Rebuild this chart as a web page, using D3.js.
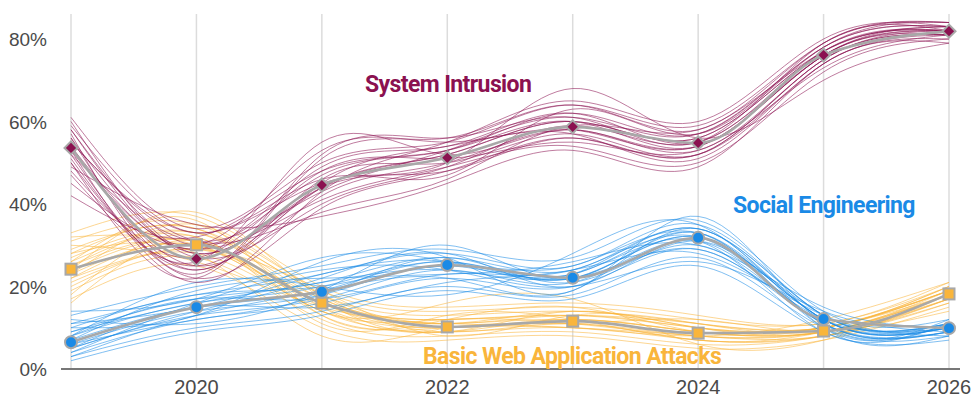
<!DOCTYPE html>
<html>
<head>
<meta charset="utf-8">
<script src="https://cdn.jsdelivr.net/npm/d3@7"></script>
<style>
  body { margin: 0; background: #fff; }
  svg { display: block; }
  .tick-label { font-family: "Liberation Sans", Arial, sans-serif; fill: #4a4a4a; }
  .series-label { font-family: Roboto, "Liberation Sans", sans-serif; font-weight: 700; }
</style>
</head>
<body>
<div id="chart"></div>
<script>
// years on the x axis
var years = [2019, 2020, 2021, 2022, 2023, 2024, 2025, 2026];
var xTickLabels = [2020, 2022, 2024, 2026];
var yTicks = [0, 20, 40, 60, 80];

// main (median) values, percent
var systemIntrusion = [53.6, 26.7, 44.6, 51.2, 58.7, 54.8, 76.1, 81.9];
var socialEngineering = [6.5, 15.0, 18.7, 25.2, 22.1, 31.8, 12.1, 9.9];
var basicWebApp = [24.2, 30.1, 16.0, 10.2, 11.6, 8.7, 9.2, 18.2];

// sample lines around each series
var systemIntrusionSamples = [
  [61, 34, 50, 55, 64, 59, 79, 84],
  [58, 30, 47, 53, 62, 57, 78, 83],
  [56, 28, 44, 52, 60, 56, 77, 82],
  [54, 25, 42, 50, 58, 54, 76, 82],
  [52, 22, 39, 48, 56, 52, 75, 81],
  [50, 24, 45, 54, 57, 51, 74, 80],
  [48, 27, 48, 51, 55, 53, 73, 81],
  [55, 31, 38, 46, 59, 58, 77, 83],
  [57, 23, 52, 56, 61, 55, 79, 82],
  [45, 29, 41, 49, 54, 50, 72, 80],
  [59, 33, 46, 47, 63, 57, 78, 84],
  [51, 26, 55, 52, 58, 53, 75, 82],
  [53, 21, 43, 55, 65, 60, 80, 83],
  [49, 35, 37, 45, 53, 49, 74, 79],
  [60, 28, 44, 50, 68, 56, 70, 79],
  [42, 32, 48, 53, 60, 54, 76, 81],
  [54, 29, 49, 54, 62, 55, 77, 82],
  [56, 24, 46, 50, 57, 52, 74, 81],
  [52, 31, 43, 53, 61, 57, 78, 83],
  [58, 27, 40, 49, 59, 55, 76, 82],
  [50, 22, 51, 56, 64, 58, 79, 84],
  [55, 33, 45, 48, 56, 52, 75, 81],
  [47, 25, 44, 52, 60, 56, 77, 82],
  [53, 30, 53, 55, 58, 54, 76, 83]
];
var socialEngineeringSamples = [
  [13, 20, 25, 29, 27, 36, 14, 12],
  [11, 18, 23, 28, 25, 35, 13, 11],
  [9, 17, 21, 27, 24, 34, 13, 11],
  [8, 16, 20, 26, 23, 33, 12, 10],
  [6, 14, 18, 25, 22, 32, 12, 10],
  [5, 13, 17, 24, 21, 31, 11, 9],
  [4, 12, 16, 22, 20, 29, 11, 9],
  [3, 10, 14, 20, 18, 27, 10, 8],
  [2, 9, 13, 19, 17, 25, 9, 7],
  [7, 19, 22, 23, 26, 30, 15, 10],
  [10, 13, 26, 27, 19, 37, 11, 12],
  [5, 15, 15, 21, 24, 28, 13, 8],
  [12, 11, 19, 30, 22, 33, 10, 11],
  [4, 16, 24, 24, 20, 26, 14, 9],
  [8, 21, 20, 18, 28, 35, 12, 10],
  [14, 17, 27, 26, 23, 31, 9, 11],
  [7, 15, 19, 26, 22, 32, 12, 10],
  [9, 16, 21, 24, 23, 34, 13, 10],
  [6, 12, 18, 27, 21, 30, 11, 9],
  [10, 18, 20, 25, 25, 33, 12, 11],
  [5, 14, 22, 28, 20, 31, 13, 10],
  [8, 17, 17, 23, 24, 32, 11, 9],
  [11, 15, 23, 26, 22, 29, 12, 11],
  [3, 13, 19, 22, 19, 34, 10, 8]
];
var basicWebAppSamples = [
  [33, 37, 20, 15, 16, 13, 11, 21],
  [31, 35, 19, 14, 15, 12, 11, 20],
  [29, 34, 18, 13, 14, 11, 10, 20],
  [27, 33, 17, 12, 13, 10, 10, 19],
  [25, 31, 16, 11, 12, 9, 9, 18],
  [23, 30, 15, 10, 11, 8, 9, 18],
  [21, 28, 14, 9, 10, 7, 8, 17],
  [19, 27, 12, 8, 9, 6, 8, 16],
  [17, 25, 10, 7, 8, 5, 7, 15],
  [26, 36, 13, 12, 15, 9, 10, 19],
  [22, 29, 19, 8, 13, 11, 9, 17],
  [30, 26, 15, 11, 10, 8, 12, 21],
  [18, 32, 11, 13, 12, 7, 8, 14],
  [24, 38, 17, 9, 14, 10, 10, 19],
  [28, 28, 8, 10, 11, 12, 9, 16],
  [16, 31, 14, 16, 17, 6, 7, 18],
  [24, 31, 16, 10, 12, 9, 9, 18],
  [26, 33, 18, 11, 13, 10, 10, 19],
  [22, 30, 14, 12, 11, 8, 9, 17],
  [28, 34, 15, 9, 12, 9, 10, 18],
  [20, 29, 17, 11, 14, 10, 9, 19],
  [25, 32, 13, 10, 10, 8, 8, 17],
  [32, 30, 16, 12, 13, 11, 10, 20],
  [23, 35, 18, 9, 11, 7, 9, 18]
];

var seriesNames = ["Basic Web Application Attacks", "Social Engineering", "System Intrusion"];
var seriesColors = ["#f9b53b", "#1a8ae6", "#8b1150"];

window.onload = () => {
  var width = 972, height = 399;

  var x = d3.scaleLinear()
    .domain([2019, 2026])
    .range([71, 949]);

  var y = d3.scaleLinear()
    .domain([0, 80])
    .range([369, 39]);

  var svg = d3.select("#chart").append("svg")
    .attr("width", width)
    .attr("height", height);

  // vertical grid
  svg.append("g")
    .selectAll("line")
    .data(years)
    .join("line")
      .attr("x1", d => x(d)).attr("x2", d => x(d))
      .attr("y1", 14).attr("y2", y(0))
      .attr("stroke", "#dcdcdc")
      .attr("stroke-width", 1.5);

  // x axis line + labels
  svg.append("line")
    .attr("x1", 61).attr("x2", 960)
    .attr("y1", y(0)).attr("y2", y(0))
    .attr("stroke", "#777")
    .attr("stroke-width", 2);

  svg.append("g")
    .selectAll("text")
    .data(xTickLabels)
    .join("text")
      .attr("class", "tick-label")
      .attr("x", d => x(d))
      .attr("y", 394)
      .attr("text-anchor", "middle")
      .style("font-size", "20px")
      .text(d => d);

  svg.append("g")
    .selectAll("text")
    .data(yTicks)
    .join("text")
      .attr("class", "tick-label")
      .attr("x", 47)
      .attr("y", d => y(d) + 7)
      .attr("text-anchor", "end")
      .style("font-size", "19px")
      .text(d => d + "%");

  var sampleLine = d3.line()
    .x((d, i) => x(years[i]))
    .y(d => y(d))
    .curve(d3.curveNatural);

  var mainLine = d3.line()
    .x((d, i) => x(years[i]))
    .y(d => y(d))
    .curve(d3.curveMonotoneX);

  var sampleSets = [basicWebAppSamples, socialEngineeringSamples, systemIntrusionSamples];
  var mains = [basicWebApp, socialEngineering, systemIntrusion];

  sampleSets.forEach((set, k) => {
    svg.append("g")
      .selectAll("path")
      .data(set)
      .join("path")
        .attr("d", sampleLine)
        .attr("fill", "none")
        .attr("stroke", seriesColors[k])
        .attr("stroke-opacity", 0.55)
        .attr("stroke-width", 1);
  });

  mains.forEach(vals => {
    svg.append("path")
      .attr("d", mainLine(vals))
      .attr("fill", "none")
      .attr("stroke", "#a8a8a8")
      .attr("stroke-width", 2.6);
  });

  // markers
  var markerStroke = "#a8a8a8";
  svg.append("g")
    .selectAll("rect")
    .data(basicWebApp)
    .join("rect")
      .attr("x", (d, i) => x(years[i]) - 5.5)
      .attr("y", d => y(d) - 5.5)
      .attr("width", 11).attr("height", 11)
      .attr("fill", seriesColors[0])
      .attr("stroke", markerStroke)
      .attr("stroke-width", 2);

  svg.append("g")
    .selectAll("circle")
    .data(socialEngineering)
    .join("circle")
      .attr("cx", (d, i) => x(years[i]))
      .attr("cy", d => y(d))
      .attr("r", 6)
      .attr("fill", seriesColors[1])
      .attr("stroke", markerStroke)
      .attr("stroke-width", 2);

  svg.append("g")
    .selectAll("path")
    .data(systemIntrusion)
    .join("path")
      .attr("d", d3.symbol(d3.symbolSquare, 85))
      .attr("transform", (d, i) => "translate(" + x(years[i]) + "," + y(d) + ") rotate(45)")
      .attr("fill", seriesColors[2])
      .attr("stroke", markerStroke)
      .attr("stroke-width", 2);

  // series labels
  var labels = [
    { name: seriesNames[2], color: seriesColors[2], x: 365, y: 92 },
    { name: seriesNames[1], color: seriesColors[1], x: 733, y: 213 },
    { name: seriesNames[0], color: seriesColors[0], x: 423, y: 364 }
  ];
  svg.append("g")
    .selectAll("text")
    .data(labels)
    .join("text")
      .attr("class", "series-label")
      .attr("x", d => d.x)
      .attr("y", d => d.y)
      .attr("fill", d => d.color)
      .style("font-size", "23px")
      .style("letter-spacing", "-0.6px")
      .text(d => d.name);
};
</script>
</body>
</html>
